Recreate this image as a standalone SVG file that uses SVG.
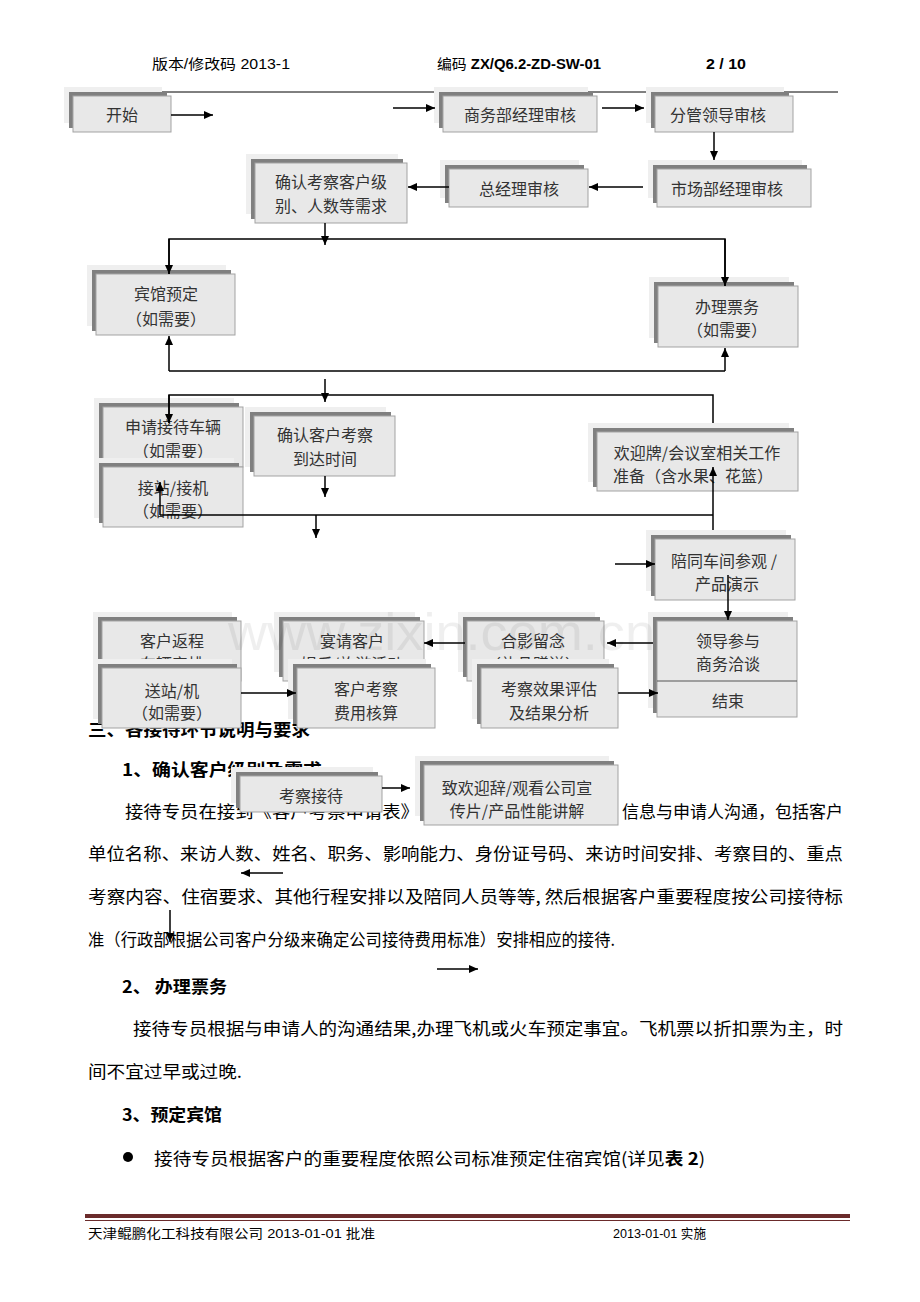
<svg xmlns="http://www.w3.org/2000/svg" width="920" height="1302" viewBox="0 0 920 1302">
<style>
.lt{fill:#efefef}
.dk{fill:#808080}
.fr{fill:#e8e8e8;stroke:#a3a3a3;stroke-width:1}
.nt{font-family:"Noto Sans CJK SC","Liberation Sans",sans-serif;font-size:16px;fill:#333;text-anchor:middle;dominant-baseline:central}
.bt{font-family:"Noto Sans CJK SC","Liberation Sans",sans-serif;font-size:17px;fill:#000;dominant-baseline:central}
.hd{font-family:"Noto Sans CJK SC","Liberation Sans",sans-serif;font-size:17px;fill:#000;font-weight:bold;dominant-baseline:central}
.hdr{font-family:"Liberation Sans","Noto Sans CJK SC",sans-serif;font-size:14px;fill:#000;dominant-baseline:central}
.ft{font-family:"Liberation Sans","Noto Sans CJK SC",sans-serif;font-size:13px;fill:#000;dominant-baseline:central}
.c{stroke:#000;stroke-width:1.5;fill:none}
.a{stroke:#000;stroke-width:1.5;fill:none;marker-end:url(#ah)}
</style>
<defs>
<marker id="ah" markerWidth="9" markerHeight="8" refX="9" refY="4" orient="auto" markerUnits="userSpaceOnUse"><path d="M0,0 L9,4 L0,8 z" fill="#000"/></marker>
</defs>
<rect width="920" height="1302" fill="#fff"/>

<g id="header">
<text class="hdr" x="152" y="64" textLength="138" lengthAdjust="spacingAndGlyphs">版本/修改码 2013-1</text>
<text class="hdr" x="437" y="64" textLength="164" lengthAdjust="spacingAndGlyphs">编码 <tspan font-weight="bold">ZX/Q6.2-ZD-SW-01</tspan></text>
<text class="hdr" x="706" y="64" font-weight="bold" textLength="40" lengthAdjust="spacingAndGlyphs">2 / 10</text>
<line x1="66" y1="92" x2="838" y2="92" stroke="#000" stroke-width="1"/>
</g>

<g id="body-text">
<text class="hd" x="88" y="728" textLength="222" lengthAdjust="spacingAndGlyphs">三、各接待环节说明与要求</text>
<text class="hd" x="122" y="768" textLength="200" lengthAdjust="spacingAndGlyphs">1、确认客户级别及需求</text>
<text class="bt" x="125" y="810" textLength="294" lengthAdjust="spacingAndGlyphs">接待专员在接到《客户考察申请表》</text>
<text class="bt" x="622" y="810" textLength="221" lengthAdjust="spacingAndGlyphs">信息与申请人沟通，包括客户</text>
<text class="bt" x="88" y="852" textLength="755" lengthAdjust="spacingAndGlyphs">单位名称、来访人数、姓名、职务、影响能力、身份证号码、来访时间安排、考察目的、重点</text>
<text class="bt" x="88" y="895" textLength="755" lengthAdjust="spacingAndGlyphs">考察内容、住宿要求、其他行程安排以及陪同人员等等, 然后根据客户重要程度按公司接待标</text>
<text class="bt" x="88" y="938" textLength="527" lengthAdjust="spacingAndGlyphs">准（行政部根据公司客户分级来确定公司接待费用标准）安排相应的接待.</text>
<text class="hd" x="122" y="985" textLength="105" lengthAdjust="spacingAndGlyphs">2、 办理票务</text>
<text class="bt" x="133" y="1027" textLength="710" lengthAdjust="spacingAndGlyphs">接待专员根据与申请人的沟通结果,办理飞机或火车预定事宜。飞机票以折扣票为主，时</text>
<text class="bt" x="88" y="1070" textLength="154" lengthAdjust="spacingAndGlyphs">间不宜过早或过晚.</text>
<text class="hd" x="122" y="1113" textLength="100" lengthAdjust="spacingAndGlyphs">3、预定宾馆</text>
<circle cx="128" cy="1157" r="5" fill="#000"/>
<text class="bt" x="154" y="1157" textLength="551" lengthAdjust="spacingAndGlyphs">接待专员根据客户的重要程度依照公司标准预定住宿宾馆(详见<tspan font-weight="bold">表 2</tspan>)</text>
</g>

<g id="n-start"><rect class="lt" x="64" y="87" width="98" height="36"/><rect class="dk" x="69" y="92" width="98" height="36"/><rect class="fr" x="73" y="96" width="98" height="36"/><text class="nt" x="122" y="114">开始</text></g>
<g id="n-swb"><rect class="lt" x="434" y="87" width="154" height="36"/><rect class="dk" x="439" y="92" width="154" height="36"/><rect class="fr" x="443" y="96" width="154" height="36"/><text class="nt" x="520" y="114">商务部经理审核</text></g>
<g id="n-fg"><rect class="lt" x="646" y="87" width="138" height="36"/><rect class="dk" x="651" y="92" width="138" height="36"/><rect class="fr" x="655" y="96" width="138" height="36"/><text class="nt" x="718" y="114">分管领导审核</text></g>
<g id="n-scb"><rect class="lt" x="648" y="160" width="154" height="38"/><rect class="dk" x="653" y="165" width="154" height="38"/><rect class="fr" x="657" y="169" width="154" height="38"/><text class="nt" x="727" y="188">市场部经理审核</text></g>
<g id="n-zjl"><rect class="lt" x="440" y="160" width="139" height="38"/><rect class="dk" x="445" y="165" width="139" height="38"/><rect class="fr" x="449" y="169" width="139" height="38"/><text class="nt" x="519" y="188">总经理审核</text></g>
<g id="n-qr"><rect class="lt" x="246" y="154" width="152" height="60"/><rect class="dk" x="251" y="159" width="152" height="60"/><rect class="fr" x="255" y="163" width="152" height="60"/><text class="nt" x="331" y="181">确认考察客户级</text><text class="nt" x="331" y="205">别、人数等需求</text></g>
<g id="n-bg"><rect class="lt" x="87" y="265" width="139" height="61"/><rect class="dk" x="92" y="270" width="139" height="61"/><rect class="fr" x="96" y="274" width="139" height="61"/><text class="nt" x="166" y="293">宾馆预定</text><text class="nt" x="166" y="318">（如需要）</text></g>
<g id="n-pw"><rect class="lt" x="649" y="277" width="140" height="61"/><rect class="dk" x="654" y="282" width="140" height="61"/><rect class="fr" x="658" y="286" width="140" height="61"/><text class="nt" x="727" y="306">办理票务</text><text class="nt" x="727" y="329">（如需要）</text></g>
<g id="n-sq"><rect class="lt" x="94" y="398" width="140" height="60"/><rect class="dk" x="99" y="403" width="140" height="60"/><rect class="fr" x="103" y="407" width="140" height="60"/><text class="nt" x="173" y="426">申请接待车辆</text><text class="nt" x="173" y="450">（如需要）</text></g>
<g id="n-jz"><rect class="lt" x="94" y="458" width="140" height="60"/><rect class="dk" x="99" y="463" width="140" height="60"/><rect class="fr" x="103" y="467" width="140" height="60"/><text class="nt" x="173" y="487">接站/接机</text><text class="nt" x="173" y="510">（如需要）</text></g>
<g id="n-dd"><rect class="lt" x="245" y="407" width="141" height="60"/><rect class="dk" x="250" y="412" width="141" height="60"/><rect class="fr" x="254" y="416" width="141" height="60"/><text class="nt" x="325" y="434">确认客户考察</text><text class="nt" x="325" y="458">到达时间</text></g>
<g id="n-hy"><rect class="lt" x="588" y="423" width="201" height="59"/><rect class="dk" x="593" y="428" width="201" height="59"/><rect class="fr" x="597" y="432" width="201" height="59"/><text class="nt" x="697" y="452">欢迎牌/会议室相关工作</text><text class="nt" x="693" y="475">准备（含水果、花篮）</text></g>
<g id="n-pt"><rect class="lt" x="646" y="530" width="140" height="61"/><rect class="dk" x="651" y="535" width="140" height="61"/><rect class="fr" x="655" y="539" width="140" height="61"/><text class="nt" x="724" y="560">陪同车间参观 /</text><text class="nt" x="727" y="583">产品演示</text></g>
<g id="n-fc"><rect class="lt" x="93" y="612" width="139" height="60"/><rect class="dk" x="98" y="617" width="139" height="60"/><rect class="fr" x="102" y="621" width="139" height="60"/><text class="nt" x="172" y="640">客户返程</text><text class="nt" x="172" y="663">车辆安排</text></g>
<g id="n-sz"><rect class="lt" x="93" y="659" width="139" height="60"/><rect class="dk" x="98" y="664" width="139" height="60"/><rect class="fr" x="102" y="668" width="139" height="60"/><text class="nt" x="172" y="690">送站/机</text><text class="nt" x="172" y="712">（如需要）</text></g>
<g id="n-yq"><rect class="lt" x="274" y="612" width="141" height="60"/><rect class="dk" x="279" y="617" width="141" height="60"/><rect class="fr" x="283" y="621" width="141" height="60"/><text class="nt" x="352" y="640">宴请客户</text><text class="nt" x="352" y="663">娱乐/旅游活动</text></g>
<g id="n-fy"><rect class="lt" x="288" y="659" width="138" height="60"/><rect class="dk" x="293" y="664" width="138" height="60"/><rect class="fr" x="297" y="668" width="138" height="60"/><text class="nt" x="366" y="688">客户考察</text><text class="nt" x="366" y="712">费用核算</text></g>
<g id="n-hyl"><rect class="lt" x="458" y="612" width="137" height="60"/><rect class="dk" x="463" y="617" width="137" height="60"/><rect class="fr" x="467" y="621" width="137" height="60"/><text class="nt" x="533" y="640">合影留念</text><text class="nt" x="533" y="663">（礼品赠送）</text></g>
<g id="n-pg"><rect class="lt" x="472" y="659" width="137" height="60"/><rect class="dk" x="477" y="664" width="137" height="60"/><rect class="fr" x="481" y="668" width="137" height="60"/><text class="nt" x="549" y="688">考察效果评估</text><text class="nt" x="549" y="712">及结果分析</text></g>
<g id="n-ld"><rect class="lt" x="648" y="612" width="140" height="96"/><rect class="dk" x="653" y="617" width="140" height="96"/><rect class="fr" x="657" y="621" width="140" height="96"/><line x1="657" y1="681" x2="797" y2="681" stroke="#555" stroke-width="1"/><text class="nt" x="728" y="640">领导参与</text><text class="nt" x="728" y="663">商务洽谈</text><text class="nt" x="728" y="700">结束</text></g>
<g id="n-kc"><rect class="lt" x="231" y="767" width="142" height="36"/><rect class="dk" x="236" y="772" width="142" height="36"/><rect class="fr" x="240" y="776" width="142" height="36"/><text class="nt" x="311" y="795">考察接待</text></g>
<g id="n-zh"><rect class="lt" x="415" y="756" width="194" height="60"/><rect class="dk" x="420" y="761" width="194" height="60"/><rect class="fr" x="424" y="765" width="194" height="60"/><text class="nt" x="517" y="787">致欢迎辞/观看公司宣</text><text class="nt" x="517" y="810">传片/产品性能讲解</text></g>

<g id="connectors">
<line class="a" x1="171" y1="115" x2="213" y2="115"/>
<line class="a" x1="393" y1="108" x2="435" y2="108"/>
<line class="a" x1="602" y1="108" x2="644" y2="108"/>
<line class="a" x1="714" y1="132" x2="714" y2="160"/>
<line class="a" x1="643" y1="187" x2="589" y2="187"/>
<line class="a" x1="449" y1="187" x2="408" y2="187"/>
<line class="a" x1="325" y1="223" x2="325" y2="245"/>
<polyline class="c" points="169,274 169,239 725,239 725,286"/>
<line class="a" x1="169" y1="239" x2="169" y2="274"/>
<line class="a" x1="725" y1="239" x2="725" y2="286"/>
<line class="c" x1="169" y1="371" x2="725" y2="371"/>
<line class="a" x1="169" y1="371" x2="169" y2="336"/>
<line class="a" x1="725" y1="371" x2="725" y2="348"/>
<line class="a" x1="325" y1="379" x2="325" y2="402"/>
<polyline class="c" points="169,423 169,395 713,395 713,423"/>
<line class="a" x1="169" y1="395" x2="169" y2="423"/>
<line class="a" x1="325" y1="476" x2="325" y2="497"/>
<line class="c" x1="160" y1="515" x2="713" y2="515"/>
<line class="a" x1="160" y1="515" x2="160" y2="482"/>
<line class="a" x1="713" y1="530" x2="713" y2="467"/>
<line class="a" x1="316" y1="515" x2="316" y2="538"/>
<line class="a" x1="615" y1="564" x2="655" y2="564"/>
<line class="a" x1="728" y1="575" x2="728" y2="620"/>
<line class="a" x1="653" y1="643" x2="607" y2="643"/>
<line class="a" x1="465" y1="643" x2="424" y2="643"/>
<line class="a" x1="241" y1="693" x2="296" y2="693"/>
<line class="a" x1="618" y1="693" x2="658" y2="693"/>
<line class="a" x1="382" y1="788" x2="410" y2="788"/>
<line class="a" x1="283" y1="873" x2="241" y2="873"/>
<line class="a" x1="170" y1="910" x2="170" y2="942"/>
<line class="a" x1="437" y1="969" x2="478" y2="969"/>
</g>

<g id="footer">
<rect x="85" y="1214" width="765" height="4" fill="#6b2b2b"/>
<line x1="85" y1="1220.5" x2="850" y2="1220.5" stroke="#6b2b2b" stroke-width="1"/>
<text class="ft" x="88" y="1233" textLength="287" lengthAdjust="spacingAndGlyphs">天津鲲鹏化工科技有限公司 2013-01-01 批准</text>
<text class="ft" x="613" y="1233" textLength="93" lengthAdjust="spacingAndGlyphs">2013-01-01 实施</text>
</g>

<text x="228" y="632" font-family="Liberation Sans, sans-serif" font-size="52" fill="#000" opacity="0.06" dominant-baseline="central" textLength="427" lengthAdjust="spacingAndGlyphs">www.zixin.com.cn</text>
</svg>
